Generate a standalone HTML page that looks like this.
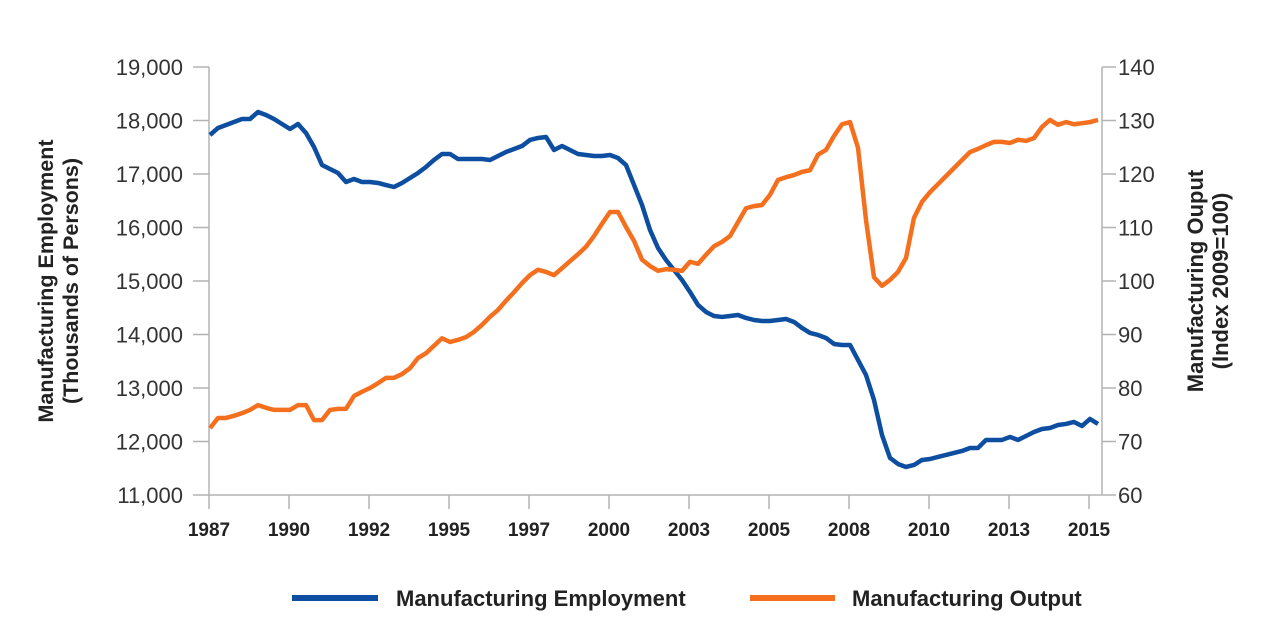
<!DOCTYPE html>
<html><head><meta charset="utf-8"><style>
body{margin:0;background:#fff;}
svg{display:block;font-family:"Liberation Sans",sans-serif;}
</style></head><body>
<svg id="chart" width="1280" height="635">
<g id="axes"></g>
<g id="series"></g>
<text transform="translate(53,281) rotate(-90)" text-anchor="middle" font-weight="bold" font-size="21.5" fill="#222">Manufacturing Employment</text>
<text transform="translate(78,281) rotate(-90)" text-anchor="middle" font-weight="bold" font-size="21.5" fill="#222">(Thousands of Persons)</text>
<text transform="translate(1203,281) rotate(-90)" text-anchor="middle" font-weight="bold" font-size="22" fill="#222">Manufacturing Ouput</text>
<text transform="translate(1228,281) rotate(-90)" text-anchor="middle" font-weight="bold" font-size="22" fill="#222">(Index 2009=100)</text>
<g>
<line x1="292" y1="598" x2="378" y2="598" stroke="#0d4ea1" stroke-width="6"/>
<text x="396" y="606" font-weight="bold" font-size="22" fill="#222">Manufacturing Employment</text></g>
<g>
<line x1="750" y1="598" x2="835" y2="598" stroke="#f4701f" stroke-width="6"/>
<text x="852" y="606" font-weight="bold" font-size="22" fill="#222">Manufacturing Output</text></g>
</svg>
<script>
const xTickLabels=["1987","1990","1992","1995","1997","2000","2003","2005","2008","2010","2013","2015"];
const leftTicks=[11000,12000,13000,14000,15000,16000,17000,18000,19000];
const rightTicks=[60,70,80,90,100,110,120,130,140];
const employment=[17729,17860,17916,17972,18028,18028,18159,18103,18028,17935,17841,17935,17766,17505,17168,17094,17019,16850,16907,16850,16850,16832,16794,16757,16832,16925,17019,17131,17262,17374,17374,17280,17280,17280,17280,17262,17337,17411,17467,17523,17636,17673,17692,17449,17523,17449,17374,17355,17337,17337,17355,17299,17168,16795,16421,15954,15617,15393,15206,15019,14795,14552,14421,14346,14328,14346,14365,14309,14271,14253,14253,14271,14290,14234,14122,14029,13991,13935,13823,13804,13804,13524,13243,12776,12122,11692,11580,11524,11561,11655,11673,11711,11748,11786,11823,11879,11879,12029,12029,12029,12085,12029,12103,12178,12234,12253,12309,12328,12365,12290,12421,12328];
const output=[72.5,74.4,74.4,74.8,75.3,75.9,76.8,76.3,75.9,75.9,75.9,76.8,76.8,74.0,74.0,75.9,76.1,76.1,78.5,79.3,80.0,80.9,81.9,81.9,82.6,83.7,85.6,86.5,87.9,89.3,88.6,89.0,89.5,90.5,91.8,93.3,94.6,96.3,97.9,99.6,101.1,102.1,101.7,101.1,102.4,103.7,105.0,106.4,108.4,110.7,112.9,112.9,110.1,107.5,104.0,102.8,101.9,102.2,102.1,101.9,103.6,103.2,104.9,106.5,107.3,108.4,111.0,113.6,114.0,114.2,116.1,118.9,119.4,119.8,120.4,120.7,123.6,124.5,127.1,129.3,129.7,124.9,111.4,100.7,99.1,100.2,101.7,104.3,111.8,114.8,116.6,118.1,119.6,121.1,122.6,124.1,124.7,125.4,126.0,126.0,125.8,126.4,126.2,126.7,128.8,130.1,129.2,129.7,129.3,129.5,129.7,130.1];

const X0=209,STEP=8,TOP=67,BOT=495,XR=1102;
const xq=i=>X0+1+i*STEP;
const yL=v=>BOT-(v-11000)/8000*(BOT-TOP);
const yR=v=>BOT-(v-60)/80*(BOT-TOP);
const NS="http://www.w3.org/2000/svg";
const axes=document.getElementById('axes'),series=document.getElementById('series');
function mk(tag,attrs,parent){const e=document.createElementNS(NS,tag);for(const k in attrs)e.setAttribute(k,attrs[k]);parent.appendChild(e);return e;}
const g='#b3b3b3';
let e=mk('line',{x1:X0,y1:TOP,x2:X0,y2:BOT,stroke:g,'stroke-width':1.5},axes);


e=mk('line',{x1:XR,y1:TOP,x2:XR,y2:BOT,stroke:g,'stroke-width':1.5},axes);


e=mk('line',{x1:X0,y1:BOT,x2:XR,y2:BOT,stroke:g,'stroke-width':1.5},axes);


leftTicks.forEach(v=>{
  const y=yL(v);
  mk('line',{x1:X0-16,y1:y,x2:X0,y2:y,stroke:g,'stroke-width':1.5},axes);
  const t=mk('text',{x:183,y:y+8,'text-anchor':'end','font-size':22,fill:'#333'},axes);
  t.textContent=v.toLocaleString('en-US');
  
  
});
rightTicks.forEach(v=>{
  const y=yR(v);
  mk('line',{x1:XR,y1:y,x2:XR+14,y2:y,stroke:g,'stroke-width':1.5},axes);
  const t=mk('text',{x:1118,y:y+8,'font-size':22,fill:'#333'},axes);
  t.textContent=v;
  
  
});
xTickLabels.forEach((l,i)=>{
  const x=X0+i*80;
  mk('line',{x1:x,y1:BOT,x2:x,y2:BOT+14,stroke:g,'stroke-width':1.5},axes);
  const t=mk('text',{x:x,y:536,'text-anchor':'middle','font-size':19,'font-weight':'bold',fill:'#222'},axes);
  t.textContent=l;
  
  
});
let p=mk('polyline',{points:employment.map((v,i)=>xq(i)+','+yL(v)).join(' '),fill:'none',stroke:'#0d4ea1','stroke-width':4.5,'stroke-linejoin':'round'},series);


p=mk('polyline',{points:output.map((v,i)=>xq(i)+','+yR(v)).join(' '),fill:'none',stroke:'#f4701f','stroke-width':4.5,'stroke-linejoin':'round'},series);


</script>
</body></html>
